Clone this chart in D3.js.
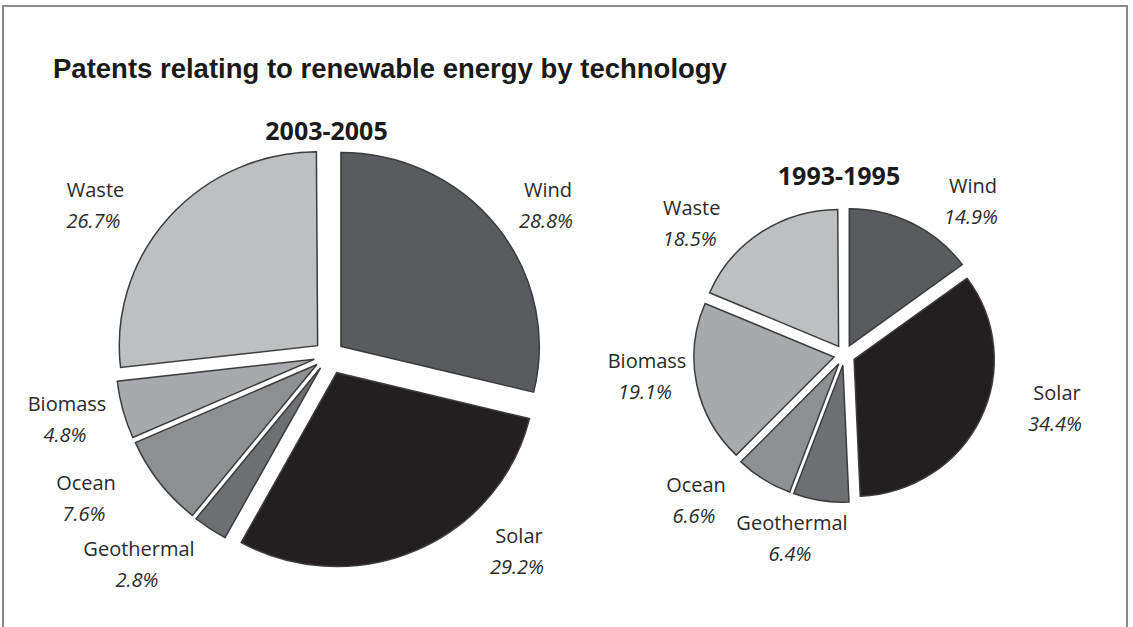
<!DOCTYPE html>
<html>
<head>
<meta charset="utf-8">
<script src="https://cdn.jsdelivr.net/npm/d3@7"></script>
<style>
  html, body { margin: 0; padding: 0; background: #fff; }
  svg { display: block; }
</style>
</head>
<body>
<svg id="chart" width="1133" height="627"></svg>
<script>
// Patent shares by renewable-energy technology, two periods
const categories = ["Wind", "Solar", "Geothermal", "Ocean", "Biomass", "Waste"];
const shares2003 = [28.8, 29.2, 2.8, 7.6, 4.8, 26.7];
const shares1993 = [14.9, 34.4, 6.4, 6.6, 19.1, 18.5];
const periods = ["2003-2005", "1993-1995"];
const chartTitle = "Patents relating to renewable energy by technology";

// Grey ramp per technology
const fills = ["#5a5b5e", "#231f20", "#6e6f72", "#8e8f92", "#a8a9ac", "#bdbfc1"];

// Layout of each pie: centre, radius, slice pull-out, label anchors (relative to centre)
const layout = [
  {
    cx: 329, cy: 355.5, r: 196,
    explode: [15, 19, 15, 15, 15, 15],
    head: [-2.5, -216],
    labels: [[219, -158.5], [190, 187.5], [-190, 200.5], [-243, 134.5], [-262, 55.5], [-233.5, -158.5]]
  },
  {
    cx: 844.5, cy: 355, r: 138.5,
    explode: [10.5, 10.5, 10.5, 10.5, 10.5, 10.5],
    head: [-5.5, -170],
    labels: [[128.5, -161.7], [212.5, 45], [-52.5, 175], [-148.5, 137], [-197.5, 13], [-152.8, -140]]
  }
];
const aspect = [1.012, 0.989];

const svg = d3.select("#chart");

// Frame
const frame = d3.path();
frame.moveTo(3, 627); frame.lineTo(3, 6); frame.lineTo(1127, 6); frame.lineTo(1127, 627);
svg.append("path").attr("d", frame.toString())
  .attr("fill", "none").attr("stroke", "#8a8a8a").attr("stroke-width", 2);

// Title
svg.append("text")
  .attr("x", 53).attr("y", 78)
  .attr("font-family", "'Liberation Sans', Arial, sans-serif")
  .attr("font-weight", "bold").attr("font-size", 27.5)
  .attr("fill", "#1a1a1a")
  .text(chartTitle);

const pctFmt = v => d3.format(".1f")(v) + "%";

[shares2003, shares1993].forEach((shares, i) => {
  const L = layout[i];
  const rows = categories.map((c, k) => ({ name: c, value: shares[k], idx: k }));
  const total = d3.sum(shares);
  const pie = d3.pie().sort(null).value(d => d.value)
    .startAngle(0).endAngle(2 * Math.PI * total / 100);
  const arcs = pie(rows);
  const arc = d3.arc().innerRadius(0).outerRadius(L.r);

  const g = svg.append("g")
    .attr("transform", `translate(${L.cx},${L.cy}) scale(${aspect[0]},${aspect[1]})`);

  g.selectAll("path.slice").data(arcs).join("path")
    .attr("class", "slice")
    .attr("transform", d => {
      const mid = (d.startAngle + d.endAngle) / 2;
      const e = L.explode[d.data.idx];
      return `translate(${e * Math.sin(mid)},${-e * Math.cos(mid)})`;
    })
    .attr("d", arc)
    .attr("fill", d => fills[d.data.idx])
    .attr("stroke", "#3c3c3e")
    .attr("stroke-width", 1.5)
    .attr("stroke-linejoin", "miter")
    .attr("vector-effect", "non-scaling-stroke");

  // Period heading
  svg.append("text")
    .attr("x", L.cx + L.head[0]).attr("y", L.cy + L.head[1])
    .attr("text-anchor", "middle")
    .attr("font-family", "'Open Sans', sans-serif")
    .attr("font-weight", "bold").attr("font-size", 25)
    .attr("fill", "#1a1a1a")
    .text(periods[i]);

  // Slice labels: name and share
  const lab = svg.append("g").selectAll("g").data(arcs).join("g")
    .attr("transform", d => {
      const p = L.labels[d.data.idx];
      return `translate(${L.cx + p[0]},${L.cy + p[1]})`;
    });
  lab.append("text")
    .attr("text-anchor", "middle")
    .attr("font-family", "'Open Sans', sans-serif")
    .attr("font-size", 20)
    .attr("fill", "#2a2a2a")
    .text(d => d.data.name);
  lab.append("text")
    .attr("x", -2).attr("y", 31)
    .attr("text-anchor", "middle")
    .attr("font-family", "'Open Sans', sans-serif")
    .attr("font-style", "italic")
    .attr("font-size", 20)
    .attr("fill", "#2a2a2a")
    .text(d => pctFmt(d.data.value));
});
</script>
</body>
</html>
